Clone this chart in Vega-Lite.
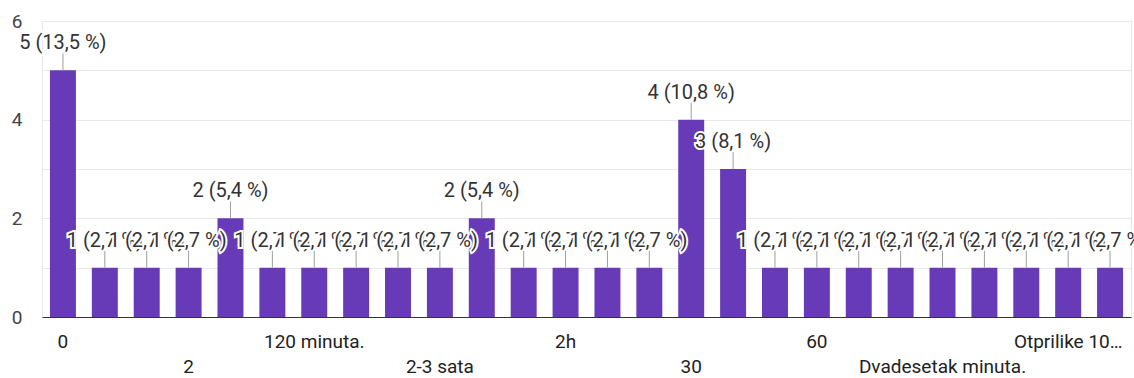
{
  "$schema": "https://vega.github.io/schema/vega-lite/v6.json",
  "width": 1089,
  "height": 296,
  "autosize": "none",
  "padding": {"left": 42, "top": 21, "right": 3, "bottom": 61},
  "background": "white",
  "config": {
    "view": {"stroke": "#e6e6e6", "strokeWidth": 1},
    "font": "Roboto",
    "text": {"font": "Roboto", "fontSize": 20, "baseline": "middle", "align": "center", "dy": -27},
    "axis": {"labelFont": "Roboto", "ticks": false, "title": null}
  },
  "data": {
    "values": [
      {"answer": "0", "count": 5, "label": "5 (13,5 %)"},
      {"answer": "1", "count": 1, "label": "1 (2,7 %)"},
      {"answer": "10 minuta", "count": 1, "label": "1 (2,7 %)"},
      {"answer": "2", "count": 1, "label": "1 (2,7 %)"},
      {"answer": "1 sat", "count": 2, "label": "2 (5,4 %)"},
      {"answer": "15", "count": 1, "label": "1 (2,7 %)"},
      {"answer": "120 minuta.", "count": 1, "label": "1 (2,7 %)"},
      {"answer": "45 minuta", "count": 1, "label": "1 (2,7 %)"},
      {"answer": "3 sata", "count": 1, "label": "1 (2,7 %)"},
      {"answer": "2-3 sata", "count": 1, "label": "1 (2,7 %)"},
      {"answer": "1h", "count": 2, "label": "2 (5,4 %)"},
      {"answer": "20", "count": 1, "label": "1 (2,7 %)"},
      {"answer": "2h", "count": 1, "label": "1 (2,7 %)"},
      {"answer": "90 minuta", "count": 1, "label": "1 (2,7 %)"},
      {"answer": "5", "count": 1, "label": "1 (2,7 %)"},
      {"answer": "30", "count": 4, "label": "4 (10,8 %)"},
      {"answer": "Pola sata", "count": 3, "label": "3 (8,1 %)"},
      {"answer": "10", "count": 1, "label": "1 (2,7 %)"},
      {"answer": "60", "count": 1, "label": "1 (2,7 %)"},
      {"answer": "3h", "count": 1, "label": "1 (2,7 %)"},
      {"answer": "Sat vremena", "count": 1, "label": "1 (2,7 %)"},
      {"answer": "Dvadesetak minuta.", "count": 1, "label": "1 (2,7 %)"},
      {"answer": "Oko sat vremena", "count": 1, "label": "1 (2,7 %)"},
      {"answer": "40", "count": 1, "label": "1 (2,7 %)"},
      {"answer": "Otprilike 10 minuta.", "count": 1, "label": "1 (2,7 %)"},
      {"answer": "Manje od pola sata", "count": 1, "label": "1 (2,7 %)"}
    ]
  },
  "encoding": {
    "x": {
      "field": "answer", "type": "nominal", "sort": null,
      "scale": {"paddingInner": 0.38, "paddingOuter": 0.19},
      "axis": {
        "values": ["0", "2", "120 minuta.", "2-3 sata", "2h", "30", "60", "Dvadesetak minuta.", "Otprilike 10 minuta."],
        "labelExpr": "round(datum.index*8) % 2 ? ['', datum.label] : truncate(datum.label, 13)",
        "labelAngle": 0, "labelOverlap": false, "labelBound": false, "labelLimit": 0,
        "labelFontSize": 19, "labelColor": "#222", "labelPadding": 15, "labelLineHeight": 25,
        "domain": true, "domainColor": "#333", "domainWidth": 1.2, "grid": false
      }
    },
    "y": {
      "field": "count", "type": "quantitative",
      "scale": {"domain": [0, 6], "nice": false},
      "axis": {
        "values": [0, 1, 2, 3, 4, 5, 6],
        "labelExpr": "datum.value % 2 == 0 ? datum.label : ''",
        "labelFontSize": 19, "labelColor": "#444", "labelPadding": 20,
        "domain": false, "grid": true, "gridColor": "#e8e8e8", "gridWidth": 1
      }
    }
  },
  "layer": [
    {"mark": {"type": "bar", "color": "#673ab7"}},
    {"mark": {"type": "rule", "color": "#9e9e9e", "strokeWidth": 1, "y2Offset": -17}, "encoding": {"y2": {"field": "count"}}},
    {"transform": [{"filter": {"field": "answer", "equal": "0"}}], "encoding": {"text": {"field": "label"}}, "layer": [{"mark": {"type": "text", "fill": "#fff", "stroke": "#fff", "strokeWidth": 4}}, {"mark": {"type": "text", "fill": "#333"}}]},
    {"transform": [{"filter": {"field": "answer", "equal": "1"}}], "encoding": {"text": {"field": "label"}}, "layer": [{"mark": {"type": "text", "fill": "#fff", "stroke": "#fff", "strokeWidth": 4}}, {"mark": {"type": "text", "fill": "#333"}}]},
    {"transform": [{"filter": {"field": "answer", "equal": "10 minuta"}}], "encoding": {"text": {"field": "label"}}, "layer": [{"mark": {"type": "text", "fill": "#fff", "stroke": "#fff", "strokeWidth": 4}}, {"mark": {"type": "text", "fill": "#333"}}]},
    {"transform": [{"filter": {"field": "answer", "equal": "2"}}], "encoding": {"text": {"field": "label"}}, "layer": [{"mark": {"type": "text", "fill": "#fff", "stroke": "#fff", "strokeWidth": 4}}, {"mark": {"type": "text", "fill": "#333"}}]},
    {"transform": [{"filter": {"field": "answer", "equal": "1 sat"}}], "encoding": {"text": {"field": "label"}}, "layer": [{"mark": {"type": "text", "fill": "#fff", "stroke": "#fff", "strokeWidth": 4}}, {"mark": {"type": "text", "fill": "#333"}}]},
    {"transform": [{"filter": {"field": "answer", "equal": "15"}}], "encoding": {"text": {"field": "label"}}, "layer": [{"mark": {"type": "text", "fill": "#fff", "stroke": "#fff", "strokeWidth": 4}}, {"mark": {"type": "text", "fill": "#333"}}]},
    {"transform": [{"filter": {"field": "answer", "equal": "120 minuta."}}], "encoding": {"text": {"field": "label"}}, "layer": [{"mark": {"type": "text", "fill": "#fff", "stroke": "#fff", "strokeWidth": 4}}, {"mark": {"type": "text", "fill": "#333"}}]},
    {"transform": [{"filter": {"field": "answer", "equal": "45 minuta"}}], "encoding": {"text": {"field": "label"}}, "layer": [{"mark": {"type": "text", "fill": "#fff", "stroke": "#fff", "strokeWidth": 4}}, {"mark": {"type": "text", "fill": "#333"}}]},
    {"transform": [{"filter": {"field": "answer", "equal": "3 sata"}}], "encoding": {"text": {"field": "label"}}, "layer": [{"mark": {"type": "text", "fill": "#fff", "stroke": "#fff", "strokeWidth": 4}}, {"mark": {"type": "text", "fill": "#333"}}]},
    {"transform": [{"filter": {"field": "answer", "equal": "2-3 sata"}}], "encoding": {"text": {"field": "label"}}, "layer": [{"mark": {"type": "text", "fill": "#fff", "stroke": "#fff", "strokeWidth": 4}}, {"mark": {"type": "text", "fill": "#333"}}]},
    {"transform": [{"filter": {"field": "answer", "equal": "1h"}}], "encoding": {"text": {"field": "label"}}, "layer": [{"mark": {"type": "text", "fill": "#fff", "stroke": "#fff", "strokeWidth": 4}}, {"mark": {"type": "text", "fill": "#333"}}]},
    {"transform": [{"filter": {"field": "answer", "equal": "20"}}], "encoding": {"text": {"field": "label"}}, "layer": [{"mark": {"type": "text", "fill": "#fff", "stroke": "#fff", "strokeWidth": 4}}, {"mark": {"type": "text", "fill": "#333"}}]},
    {"transform": [{"filter": {"field": "answer", "equal": "2h"}}], "encoding": {"text": {"field": "label"}}, "layer": [{"mark": {"type": "text", "fill": "#fff", "stroke": "#fff", "strokeWidth": 4}}, {"mark": {"type": "text", "fill": "#333"}}]},
    {"transform": [{"filter": {"field": "answer", "equal": "90 minuta"}}], "encoding": {"text": {"field": "label"}}, "layer": [{"mark": {"type": "text", "fill": "#fff", "stroke": "#fff", "strokeWidth": 4}}, {"mark": {"type": "text", "fill": "#333"}}]},
    {"transform": [{"filter": {"field": "answer", "equal": "5"}}], "encoding": {"text": {"field": "label"}}, "layer": [{"mark": {"type": "text", "fill": "#fff", "stroke": "#fff", "strokeWidth": 4}}, {"mark": {"type": "text", "fill": "#333"}}]},
    {"transform": [{"filter": {"field": "answer", "equal": "30"}}], "encoding": {"text": {"field": "label"}}, "layer": [{"mark": {"type": "text", "fill": "#fff", "stroke": "#fff", "strokeWidth": 4}}, {"mark": {"type": "text", "fill": "#333"}}]},
    {"transform": [{"filter": {"field": "answer", "equal": "Pola sata"}}], "encoding": {"text": {"field": "label"}}, "layer": [{"mark": {"type": "text", "fill": "#fff", "stroke": "#fff", "strokeWidth": 4}}, {"mark": {"type": "text", "fill": "#333"}}]},
    {"transform": [{"filter": {"field": "answer", "equal": "10"}}], "encoding": {"text": {"field": "label"}}, "layer": [{"mark": {"type": "text", "fill": "#fff", "stroke": "#fff", "strokeWidth": 4}}, {"mark": {"type": "text", "fill": "#333"}}]},
    {"transform": [{"filter": {"field": "answer", "equal": "60"}}], "encoding": {"text": {"field": "label"}}, "layer": [{"mark": {"type": "text", "fill": "#fff", "stroke": "#fff", "strokeWidth": 4}}, {"mark": {"type": "text", "fill": "#333"}}]},
    {"transform": [{"filter": {"field": "answer", "equal": "3h"}}], "encoding": {"text": {"field": "label"}}, "layer": [{"mark": {"type": "text", "fill": "#fff", "stroke": "#fff", "strokeWidth": 4}}, {"mark": {"type": "text", "fill": "#333"}}]},
    {"transform": [{"filter": {"field": "answer", "equal": "Sat vremena"}}], "encoding": {"text": {"field": "label"}}, "layer": [{"mark": {"type": "text", "fill": "#fff", "stroke": "#fff", "strokeWidth": 4}}, {"mark": {"type": "text", "fill": "#333"}}]},
    {"transform": [{"filter": {"field": "answer", "equal": "Dvadesetak minuta."}}], "encoding": {"text": {"field": "label"}}, "layer": [{"mark": {"type": "text", "fill": "#fff", "stroke": "#fff", "strokeWidth": 4}}, {"mark": {"type": "text", "fill": "#333"}}]},
    {"transform": [{"filter": {"field": "answer", "equal": "Oko sat vremena"}}], "encoding": {"text": {"field": "label"}}, "layer": [{"mark": {"type": "text", "fill": "#fff", "stroke": "#fff", "strokeWidth": 4}}, {"mark": {"type": "text", "fill": "#333"}}]},
    {"transform": [{"filter": {"field": "answer", "equal": "40"}}], "encoding": {"text": {"field": "label"}}, "layer": [{"mark": {"type": "text", "fill": "#fff", "stroke": "#fff", "strokeWidth": 4}}, {"mark": {"type": "text", "fill": "#333"}}]},
    {"transform": [{"filter": {"field": "answer", "equal": "Otprilike 10 minuta."}}], "encoding": {"text": {"field": "label"}}, "layer": [{"mark": {"type": "text", "fill": "#fff", "stroke": "#fff", "strokeWidth": 4}}, {"mark": {"type": "text", "fill": "#333"}}]},
    {"transform": [{"filter": {"field": "answer", "equal": "Manje od pola sata"}}], "encoding": {"text": {"field": "label"}}, "layer": [{"mark": {"type": "text", "fill": "#fff", "stroke": "#fff", "strokeWidth": 4}}, {"mark": {"type": "text", "fill": "#333"}}]}
  ]
}
